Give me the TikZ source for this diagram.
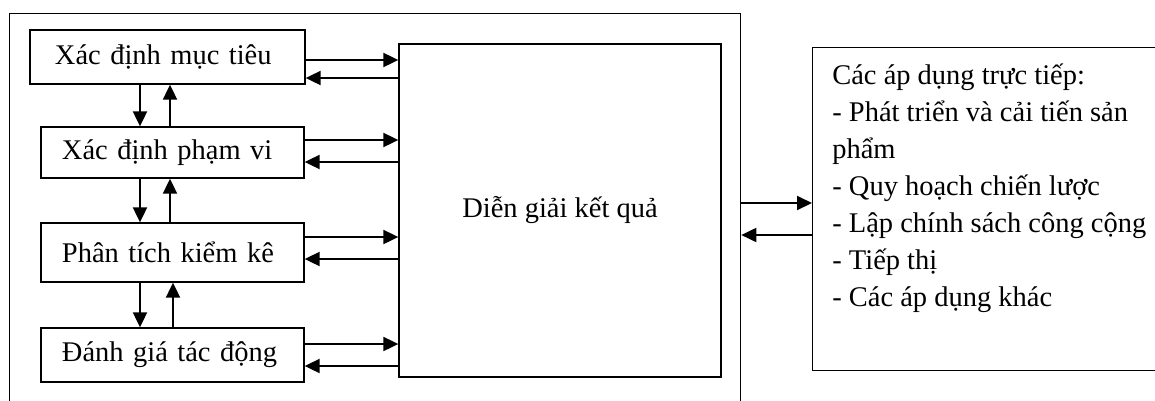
\documentclass[tikz,border=0pt]{standalone}
\usepackage{fontspec}
\setmainfont{Liberation Serif}
\usetikzlibrary{arrows.meta}

\tikzset{
	txt/.style={font=\fontsize{16.2pt}{21pt}\selectfont},
	box/.style={draw, line width=0.75pt, inner sep=0pt, txt},
	stage/.style={box, inner xsep=4.2mm, text width=44.2mm, align=left},
	flow/.style={line width=1.1pt, -{Triangle[length=3mm,width=2.8mm]}},
}

\begin{document}
\begin{tikzpicture}[x=0.2mm,y=-0.2mm]
	\useasboundingbox (0,0) rectangle (1155,400);
	\clip (0,0) rectangle (1155,400);
	\node[box, anchor=north west, minimum width=146.2mm, minimum height=81.4mm] (frame) at (9,13) {};
	\node[stage, inner xsep=5mm, text width=45mm, minimum height=10.8mm] (b1) at (167.5,57) {Xác định mục tiêu};
	\node[stage, minimum height=10.2mm] (b2) at (172.5,152.5) {Xác định phạm vi};
	\node[stage, minimum height=11.8mm] (b3) at (172.5,252.5) {Phân tích kiểm kê};
	\node[stage, minimum height=10.8mm] (b4) at (172.5,355) {Đánh giá tác động};
	\node[box, minimum width=64.4mm, minimum height=66.6mm] (res) at (560,210.5) {Diễn giải kết quả};
	\node[box, anchor=north west, minimum width=72.6mm, minimum height=64.6mm] (apps) at (812,47) {};
	\node[txt, anchor=north west, align=left, inner sep=0pt] (appstext) at (832,64)
		{Các áp dụng trực tiếp:\\- Phát triển và cải tiến sản\\phẩm\\- Quy hoạch chiến lược\\- Lập chính sách công cộng\\- Tiếp thị\\- Các áp dụng khác};
	\foreach \n/\ya/\yb in {b1/60/78,b2/140/162,b3/237/259,b4/344/366}
		{\draw[flow] (\n.east |- 0,\ya) -- (res.west |- 0,\ya);
		 \draw[flow] (res.west |- 0,\yb) -- (\n.east |- 0,\yb);}
	\foreach \a/\b/\xd/\xu in {b1/b2/140/170,b2/b3/140/170,b3/b4/140/173}
		{\draw[flow] (\a.south -| \xd,0) -- (\b.north -| \xd,0);
		 \draw[flow] (\b.north -| \xu,0) -- (\a.south -| \xu,0);}
	\draw[flow] (frame.east |- 0,203) -- (apps.west |- 0,203);
	\draw[flow] (apps.west |- 0,235) -- (frame.east |- 0,235);
\end{tikzpicture}
\end{document}
